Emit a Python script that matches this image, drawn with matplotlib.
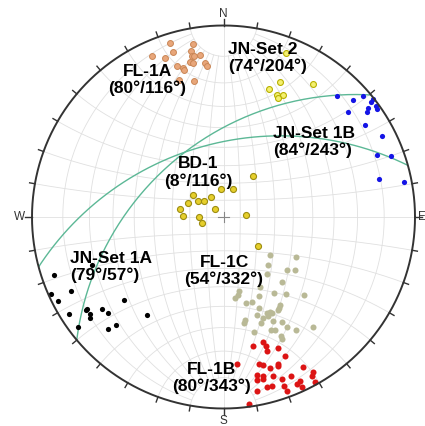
import numpy as np
import matplotlib
matplotlib.use("Agg")
import matplotlib.pyplot as plt
from matplotlib.patches import Circle

# ---------------- data (projected net coordinates, net radius = 1) ----------------
fl1a_x = [-0.279, -0.161, -0.265, -0.171, -0.373, -0.305, -0.167, -0.154, -0.121,
          -0.173, -0.158, -0.241, -0.210, -0.208, -0.098, -0.085, -0.234, -0.152]
fl1a_y = [0.907, 0.902, 0.860, 0.868, 0.841, 0.830, 0.841, 0.841, 0.846,
          0.808, 0.806, 0.789, 0.780, 0.768, 0.803, 0.790, 0.715, 0.710]

jn2_x = [0.326, 0.297, 0.466, 0.239, 0.281, 0.309, 0.287]
jn2_y = [0.855, 0.707, 0.695, 0.668, 0.637, 0.639, 0.620]

jn1b_x = [0.591, 0.678, 0.727, 0.781, 0.770, 0.756, 0.796, 0.800, 0.652, 0.748,
          0.739, 0.828, 0.802, 0.873, 0.810, 0.944]
jn1b_y = [0.633, 0.611, 0.630, 0.616, 0.602, 0.571, 0.580, 0.562, 0.548, 0.546,
          0.480, 0.423, 0.324, 0.319, 0.201, 0.182]

bd1_x = [0.156, -0.013, 0.051, -0.161, -0.067, -0.132, -0.100, -0.184, -0.045,
         -0.229, -0.214, -0.126, -0.112, 0.119, 0.179]
bd1_y = [0.216, 0.148, 0.148, 0.113, 0.103, 0.085, 0.085, 0.072, 0.042,
         0.043, 0.007, -0.002, -0.032, 0.013, -0.153]

jn1a_x = [-0.884, -0.902, -0.797, -0.863, -0.518, -0.807, -0.713, -0.718, -0.699,
          -0.697, -0.637, -0.602, -0.402, -0.761, -0.563, -0.605, -0.688]
jn1a_y = [-0.305, -0.401, -0.388, -0.440, -0.434, -0.504, -0.478, -0.488, -0.507,
          -0.525, -0.479, -0.503, -0.513, -0.573, -0.564, -0.583, -0.251]

fl1c_x = [0.243, 0.377, 0.231, 0.333, 0.373, 0.225, 0.304, 0.083, 0.191, 0.264,
          0.325, 0.420, 0.077, 0.060, 0.187, 0.117, 0.150, 0.295, 0.291, 0.286,
          0.184, 0.243, 0.225, 0.252, 0.231, 0.173, 0.208, 0.257, 0.112, 0.107,
          0.194, 0.304, 0.246, 0.269, 0.333, 0.377, 0.466, 0.159, 0.299, 0.304]
fl1c_y = [-0.200, -0.211, -0.252, -0.275, -0.275, -0.298, -0.339, -0.385, -0.366, -0.397,
          -0.404, -0.409, -0.406, -0.423, -0.414, -0.449, -0.444, -0.458, -0.475, -0.487,
          -0.477, -0.494, -0.501, -0.501, -0.519, -0.513, -0.529, -0.541, -0.536, -0.554,
          -0.554, -0.550, -0.588, -0.588, -0.574, -0.588, -0.576, -0.602, -0.620, -0.637]

fl1b_x = [0.208, 0.152, 0.220, 0.225, 0.286, 0.321, 0.069, 0.187, 0.208, 0.286,
          0.286, 0.243, 0.413, 0.173, 0.208, 0.257, 0.177, 0.206, 0.307, 0.351,
          0.466, 0.461, 0.316, 0.382, 0.408, 0.225, 0.252, 0.177, 0.330, 0.478,
          0.135, 0.399]
fl1b_y = [-0.654, -0.672, -0.675, -0.698, -0.684, -0.728, -0.766, -0.766, -0.771, -0.766,
          -0.780, -0.790, -0.783, -0.823, -0.832, -0.829, -0.849, -0.844, -0.844, -0.832,
          -0.811, -0.832, -0.881, -0.870, -0.888, -0.888, -0.884, -0.910, -0.907, -0.863,
          -0.975, -0.858]

# two traced arcs, each given by three points read along it
arc1_x = [-0.969, -0.201, 0.937]
arc1_y = [-0.266, 0.339, 0.282]
arc2_x = [-0.765, -0.201, 0.775]
arc2_y = [-0.632, 0.339, 0.637]

set_names = ["FL-1A", "JN-Set 2", "JN-Set 1B", "BD-1", "JN-Set 1A", "FL-1C", "FL-1B"]
set_orients = ["(80°/116°)", "(74°/204°)", "(84°/243°)", "(8°/116°)",
               "(79°/57°)", "(54°/332°)", "(80°/343°)"]
cardinals = ["N", "E", "S", "W"]

# ---------------- figure ----------------
fig = plt.figure(figsize=(4.25, 4.26), dpi=100)
ax = fig.add_axes([0, 0, 1, 1])
ax.set_xlim(-1.1671, 1.0522)
ax.set_ylim(-1.0914, 1.1332)
ax.axis("off")

# Wulff (equal-angle) grid
def stereo(X, Y, Z):
    return X / (1 + Z), Y / (1 + Z)

grid_kw = dict(color="#e0e0e0", lw=0.6, zorder=1)
phi = np.radians(np.linspace(-80, 80, 200))
for lam_deg in range(-80, 90, 10):
    lam = np.radians(lam_deg)
    if lam_deg == 0:
        ph = np.radians(np.linspace(-90, 90, 200))
    else:
        ph = phi
    u, v = stereo(np.cos(ph) * np.sin(lam), np.sin(ph), np.cos(ph) * np.cos(lam))
    ax.plot(u, v, **grid_kw)
lam_all = np.radians(np.linspace(-90, 90, 300))
for phi_deg in range(-80, 90, 10):
    ph = np.radians(phi_deg)
    u, v = stereo(np.cos(ph) * np.sin(lam_all), np.sin(ph) * np.ones_like(lam_all),
                  np.cos(ph) * np.cos(lam_all))
    ax.plot(u, v, **grid_kw)

# primitive circle and ticks
t = np.linspace(0, 2 * np.pi, 721)
ax.plot(np.cos(t), np.sin(t), color="#333333", lw=1.4, zorder=5)
for az in range(0, 360, 10):
    a = np.radians(az)
    L = 1.036 if az % 90 == 0 else 1.028
    ax.plot([np.sin(a), L * np.sin(a)], [np.cos(a), L * np.cos(a)],
            color="#333333", lw=1.0, zorder=5)
# centre cross
ax.plot([-0.028, 0.028], [0, 0], color="#888888", lw=0.8, zorder=5)
ax.plot([0, 0], [-0.028, 0.028], color="#888888", lw=0.8, zorder=5)

card_pos = {"N": (0, 1.058, "center", "center"), "S": (0, -1.066, "center", "center"),
            "W": (-1.036, 0, "right", "center"), "E": (1.018, 0, "left", "center")}
for c in cardinals:
    x, y, ha, va = card_pos[c]
    ax.text(x, y, c, fontsize=8.5, color="#333333", ha=ha, va=va,
            family="Liberation Sans", zorder=6)

# arcs
def circle_through(xs, ys):
    (x1, x2, x3), (y1, y2, y3) = xs, ys
    A = np.array([[x2 - x1, y2 - y1], [x3 - x2, y3 - y2]])
    b = 0.5 * np.array([x2**2 - x1**2 + y2**2 - y1**2, x3**2 - x2**2 + y3**2 - y2**2])
    cx, cy = np.linalg.solve(A, b)
    return cx, cy, np.hypot(x1 - cx, y1 - cy)

for xs, ys in [(arc1_x, arc1_y), (arc2_x, arc2_y)]:
    cx, cy, r = circle_through(xs, ys)
    tt = np.linspace(0, 2 * np.pi, 1000)
    ln, = ax.plot(cx + r * np.cos(tt), cy + r * np.sin(tt), color="#5cb896", lw=1.0, zorder=3)
    ln.set_clip_path(Circle((0, 0), 1.0, transform=ax.transData))

# points
ax.scatter(fl1a_x, fl1a_y, s=18, c="#e8a67a", edgecolors="#c98555", linewidths=0.7, zorder=4)
ax.scatter(jn2_x, jn2_y, s=18, c="#f4f070", edgecolors="#b8b000", linewidths=0.8, zorder=4)
ax.scatter(bd1_x, bd1_y, s=19, c="#e6cf2c", edgecolors="#9c8c10", linewidths=0.8, zorder=4)
ax.scatter(jn1b_x, jn1b_y, s=14, c="#1414e6", linewidths=0, zorder=4)
ax.scatter(jn1a_x, jn1a_y, s=14, c="#000000", linewidths=0, zorder=4)
ax.scatter(fl1c_x, fl1c_y, s=19, c="#b9b996", linewidths=0, zorder=4)
ax.scatter(fl1b_x, fl1b_y, s=19, c="#dc1414", linewidths=0, zorder=4)

# labels
label_pos = [(-0.399, 0.715, "center"), (0.0235, 0.830, "left"), (0.258, 0.392, "left"),
             (-0.133, 0.232, "center"), (-0.802, -0.261, "left"), (0.003, -0.282, "center"),
             (-0.063, -0.841, "center")]
for name, ori, (x, y, ha) in zip(set_names, set_orients, label_pos):
    ax.text(x, y, name + "\n" + ori, fontsize=12.5, fontweight="bold", family="Liberation Sans",
            ha=ha, va="center", multialignment=ha, linespacing=1.15, color="#000000", zorder=7)

fig.savefig("out.png", dpi=100, facecolor="white")
